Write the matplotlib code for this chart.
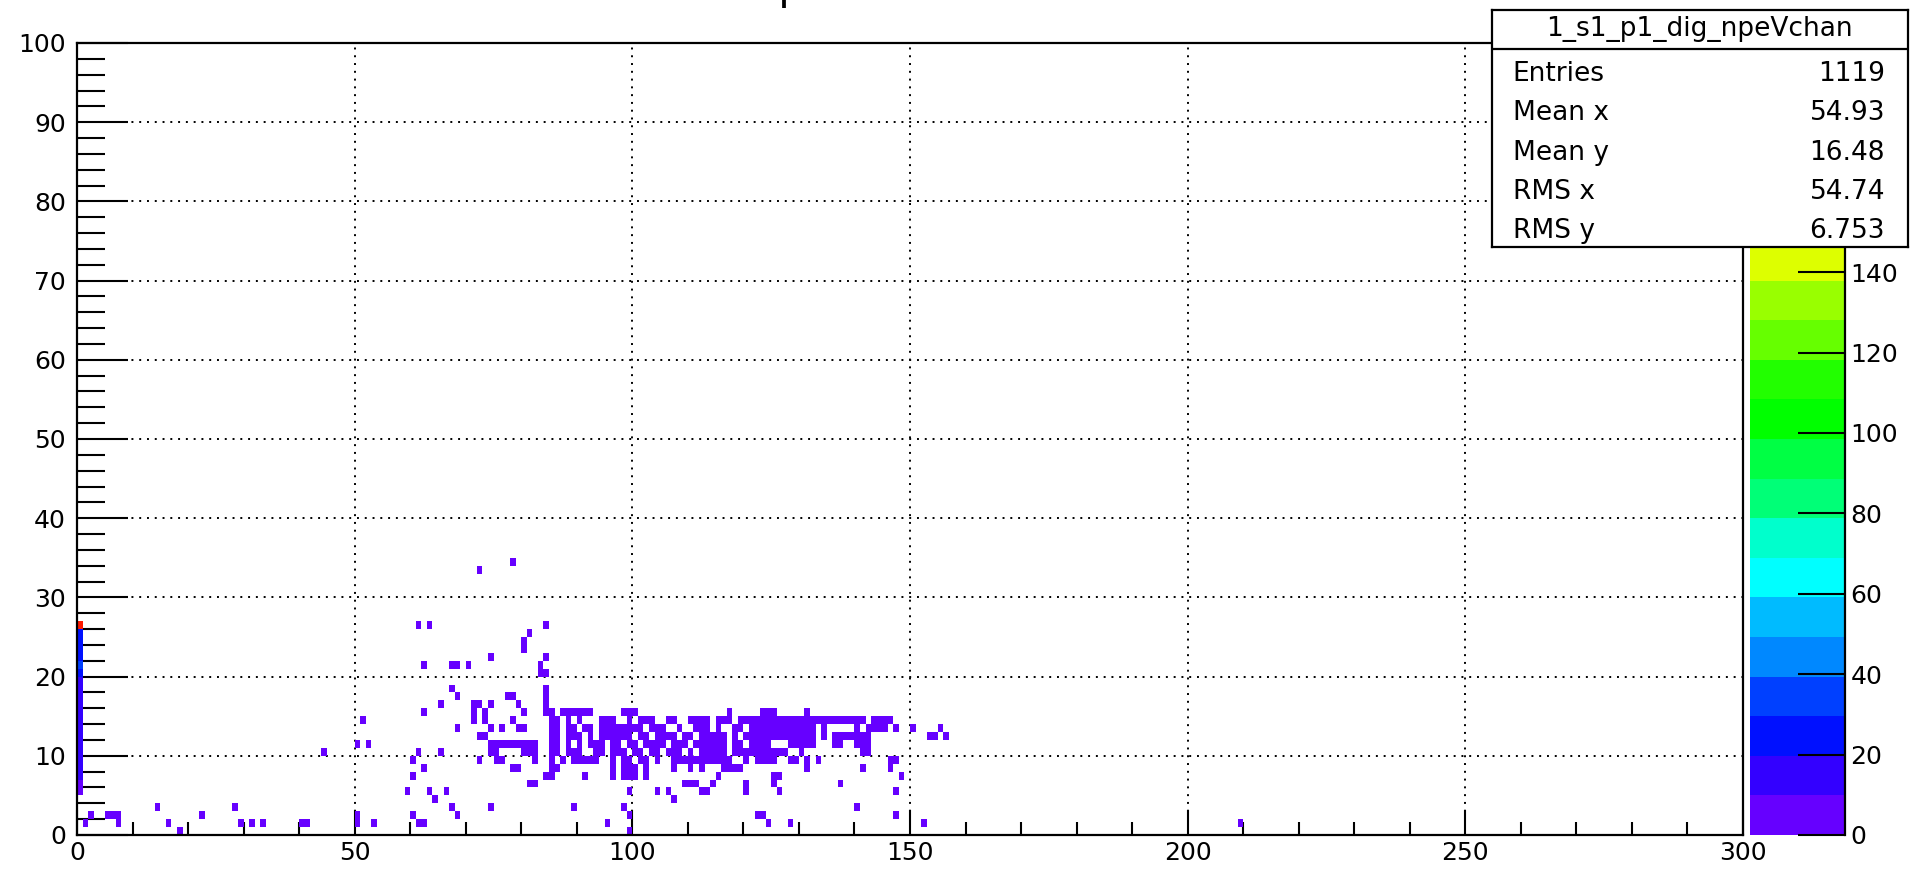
import numpy as np
import matplotlib
matplotlib.use("Agg")
import matplotlib.pyplot as plt
from matplotlib.colors import ListedColormap, BoundaryNorm
from matplotlib.lines import Line2D

plt.rcParams['font.family'] = ['DejaVu Sans']

# 2D histogram: 300 channel bins (x) by 100 npe bins (y)
nx, ny = 300, 100
zmax = 197.0

# channel 0 column (y bin, counts)
col0_y = [5, 6, 7, 8, 9, 10, 11, 12, 13, 14, 15, 16, 17, 18, 19, 20, 21, 22, 23, 24, 25, 26]
col0_n = [6, 8, 12, 14, 13, 15, 12, 16, 14, 17, 12, 15, 18, 16, 19, 24, 33, 27, 25, 28, 26, 197]

# low-count cells read as horizontal runs: y bin, first x bin, last x bin
run_y = [1, 2, 2, 1, 3, 1, 0, 2, 3, 1, 1, 1, 1, 10,
         33, 34, 26, 26, 21, 21, 21, 22, 26, 25, 24, 23, 22, 21, 20, 18, 18, 17, 16,
         15, 14, 11, 11, 16, 16, 15, 14, 15, 14, 13, 13, 17, 16, 15, 14, 13, 13, 12,
         11, 10, 10, 9, 9, 9, 8, 6, 7, 8, 7, 8, 17, 16, 15, 13, 14, 11, 8, 7, 10, 9,
         10, 5, 5, 4, 5, 3, 2, 3, 2, 1, 1, 2, 1, 1,
         15, 15, 15, 15, 15, 15,
         14, 14, 14, 14, 14, 14, 14, 14, 14, 14, 14,
         13, 13, 13, 13, 13, 13, 13, 13, 13, 13, 13, 13,
         12, 12, 12, 12, 12, 12, 12, 12, 12, 12, 12,
         11, 11, 11, 11, 11, 11, 11, 11, 11, 11, 11, 11,
         10, 10, 10, 10, 10, 10, 10, 10, 10, 10,
         9, 9, 9, 9, 9, 9, 9, 9, 9, 9, 9, 9, 9, 9, 9,
         8, 8, 8, 8, 8, 8, 8, 8, 8,
         7, 7, 7, 7, 7, 7, 7,
         6, 6, 6, 5, 5, 5, 5, 5, 4, 3, 3, 2, 2, 1, 0,
         15, 15, 14, 14, 14, 14,
         13, 13, 13, 13, 13, 13, 13, 13, 13,
         12, 12, 12, 12, 12, 12, 12, 12, 12, 12,
         11, 11, 11, 11, 11, 11,
         10, 10, 10,
         9, 9, 9, 9, 9,
         8, 8, 8, 7, 7, 6, 6, 5, 5, 3, 2, 2, 1, 1, 1, 1]
run_x0 = [1, 2, 5, 7, 14, 16, 18, 22, 28, 29, 31, 33, 40, 44,
          72, 78, 61, 63, 62, 67, 70, 74, 84, 81, 80, 80, 84, 83, 83, 84, 67, 68, 65,
          62, 51, 50, 52, 71, 74, 71, 71, 73, 73, 74, 76, 77, 79, 80, 78, 79, 68, 72,
          74, 74, 80, 82, 75, 72, 78, 81, 84, 85, 85, 86, 84, 84, 84, 85, 86, 85, 62, 60, 61, 60,
          65, 59, 63, 64, 66, 67, 68, 74, 60, 61, 50, 50, 53, 209,
          85, 87, 88, 98, 117, 123,
          85, 88, 90, 94, 99, 101, 106, 110, 115, 116, 119,
          85, 88, 91, 94, 98, 100, 103, 108, 111, 115, 118, 121,
          85, 88, 92, 94, 101, 104, 109, 112, 118, 120, 124,
          85, 88, 90, 92, 96, 99, 102, 107, 111, 114, 118, 121,
          85, 88, 93, 96, 100, 103, 106, 110, 112, 118,
          85, 87, 89, 91, 93, 96, 98, 101, 104, 107, 111, 114, 116, 120, 122,
          85, 96, 98, 100, 102, 107, 110, 112, 116,
          85, 91, 96, 98, 100, 102, 115,
          109, 114, 120, 99, 104, 106, 112, 120, 107, 89, 98, 99, 122, 95, 99,
          124, 131, 123, 133, 139, 143,
          123, 128, 130, 134, 140, 142, 147, 150, 155,
          123, 125, 128, 130, 134, 136, 140, 141, 153, 156,
          123, 128, 130, 131, 136, 140,
          123, 130, 141,
          123, 128, 131, 133, 146,
          131, 141, 146, 125, 148, 125, 137, 126, 147, 140, 123, 147, 124, 128, 152, 124]
run_x1 = [1, 2, 7, 7, 14, 16, 18, 22, 28, 29, 31, 33, 41, 44,
          72, 78, 61, 63, 62, 68, 70, 74, 84, 81, 80, 80, 84, 83, 84, 84, 67, 68, 65,
          62, 51, 50, 52, 72, 74, 71, 71, 73, 73, 74, 76, 78, 79, 80, 78, 80, 68, 73,
          82, 75, 82, 82, 76, 72, 79, 82, 84, 85, 85, 86, 84, 84, 84, 86, 86, 86, 62, 60, 61, 60,
          65, 59, 63, 64, 66, 67, 68, 74, 60, 62, 50, 50, 53, 209,
          85, 87, 92, 100, 117, 124,
          86, 88, 90, 96, 99, 103, 107, 113, 115, 117, 124,
          86, 89, 92, 97, 99, 101, 105, 108, 113, 115, 119, 124,
          86, 90, 92, 99, 102, 107, 110, 116, 118, 122, 124,
          86, 88, 90, 94, 97, 100, 105, 109, 113, 116, 119, 124,
          86, 90, 94, 98, 101, 104, 108, 110, 116, 124,
          85, 87, 90, 92, 93, 96, 99, 102, 104, 110, 113, 115, 117, 120, 124,
          85, 96, 99, 100, 102, 107, 110, 112, 119,
          85, 91, 96, 99, 100, 102, 115,
          111, 114, 120, 99, 104, 106, 113, 120, 107, 89, 98, 99, 123, 95, 99,
          125, 131, 132, 138, 141, 146,
          127, 129, 132, 134, 140, 145, 147, 150, 155,
          123, 127, 129, 132, 134, 139, 140, 142, 154, 156,
          123, 129, 130, 132, 137, 142,
          127, 130, 142,
          125, 129, 131, 133, 147,
          131, 141, 146, 126, 148, 125, 137, 126, 147, 140, 123, 147, 124, 128, 152, 124]

H = np.zeros((ny, nx))
for y, n in zip(col0_y, col0_n):
    H[y, 0] += n
for y, a, b in zip(run_y, run_x0, run_x1):
    H[y, a:b + 1] += 1

band_colors = ['#6600ff', '#3300ff', '#0010ff', '#0040ff', '#0088ff',
               '#00bbff', '#00ffff', '#00ffcc', '#00ff77', '#00ff44',
               '#00ff00', '#22ff00', '#66ff00', '#99ff00', '#ddff00',
               '#ffee00', '#ffbb00', '#ff8800', '#ff4400', '#ff1a00']
cmap = ListedColormap(band_colors)
levels = np.linspace(0, zmax, 21)
norm = BoundaryNorm(levels, cmap.N)

W, Hpx = 1925, 876
fig = plt.figure(figsize=(W / 100, Hpx / 100), dpi=100)
ax = fig.add_axes([77 / W, 1 - 835 / Hpx, (1743 - 77) / W, (835 - 43) / Hpx])
cax = fig.add_axes([1750 / W, 1 - 835 / Hpx, 95 / W, (835 - 43) / Hpx])

xe = np.arange(nx + 1)
ye = np.arange(ny + 1)
mesh = ax.pcolormesh(xe, ye, np.ma.masked_equal(H, 0), cmap=cmap, norm=norm,
                     zorder=2)
ax.set_xlim(0, 300)
ax.set_ylim(0, 100)

ax.set_xticks(np.arange(0, 301, 50))
ax.set_xticks(np.arange(0, 301, 10), minor=True)
ax.set_yticks(np.arange(0, 101, 10))
ax.set_yticks(np.arange(0, 101, 2), minor=True)
ax.tick_params(axis='x', which='major', direction='in', length=18, width=1.5,
               labelsize=18, pad=4, top=False)
ax.tick_params(axis='x', which='minor', direction='in', length=9.5, width=1.5,
               top=False)
ax.tick_params(axis='y', which='major', direction='in', length=37, width=1.5,
               labelsize=18, pad=8, right=False)
ax.tick_params(axis='y', which='minor', direction='in', length=20, width=1.5,
               right=False)
ax.grid(True, which='major', color='black', linestyle=(0, (1, 3)),
        linewidth=1.4, zorder=1)
ax.set_axisbelow(True)
for s in ax.spines.values():
    s.set_linewidth(1.6)

cb = fig.colorbar(mesh, cax=cax, boundaries=levels, spacing='proportional')
cb.outline.set_visible(False)
cax.set_ylim(0, zmax)
# the upper labels sit under the statistics box, so only these show
cax.set_yticks(np.arange(0, 141, 20))
cax.yaxis.set_ticks_position('right')
cax.tick_params(axis='y', direction='in', length=34, width=1.5, labelsize=18,
                pad=4)
cax.minorticks_off()
cax.add_line(Line2D([1, 1], [0, 1], transform=cax.transAxes, color='black',
                    linewidth=1.6, clip_on=False))

# statistics box
sx0, sx1, sy0, sy1 = 1491.7, 1908, 10, 246.7
sax = fig.add_axes([sx0 / W, 1 - sy1 / Hpx, (sx1 - sx0) / W, (sy1 - sy0) / Hpx])
sax.set_xticks([])
sax.set_yticks([])
sax.set_xlim(0, 1)
sax.set_ylim(0, 1)
for s in sax.spines.values():
    s.set_linewidth(1.6)
sax.axhline((sy1 - 49.3) / (sy1 - sy0), color='black', linewidth=1.6)
sax.text(0.5, 0.92, '1_s1_p1_dig_npeVchan', ha='center', va='center',
         fontsize=19)
stat_names = ['Entries', 'Mean x', 'Mean y', 'RMS x', 'RMS y']
stat_vals = ['1119', '54.93', '16.48', '54.74', '6.753']
for i, (nm, v) in enumerate(zip(stat_names, stat_vals)):
    yb = 0.70 - i * 0.166
    sax.text(0.05, yb, nm, ha='left', va='baseline', fontsize=19)
    sax.text(0.945, yb, v, ha='right', va='baseline', fontsize=19)

# title, mostly cut off by the top edge of the canvas
fig.text(910 / W, 1.0 + 1.5 / Hpx, 'npe vs channel', ha='center',
         va='baseline', fontsize=30)

fig.savefig('out.png', dpi=100)
